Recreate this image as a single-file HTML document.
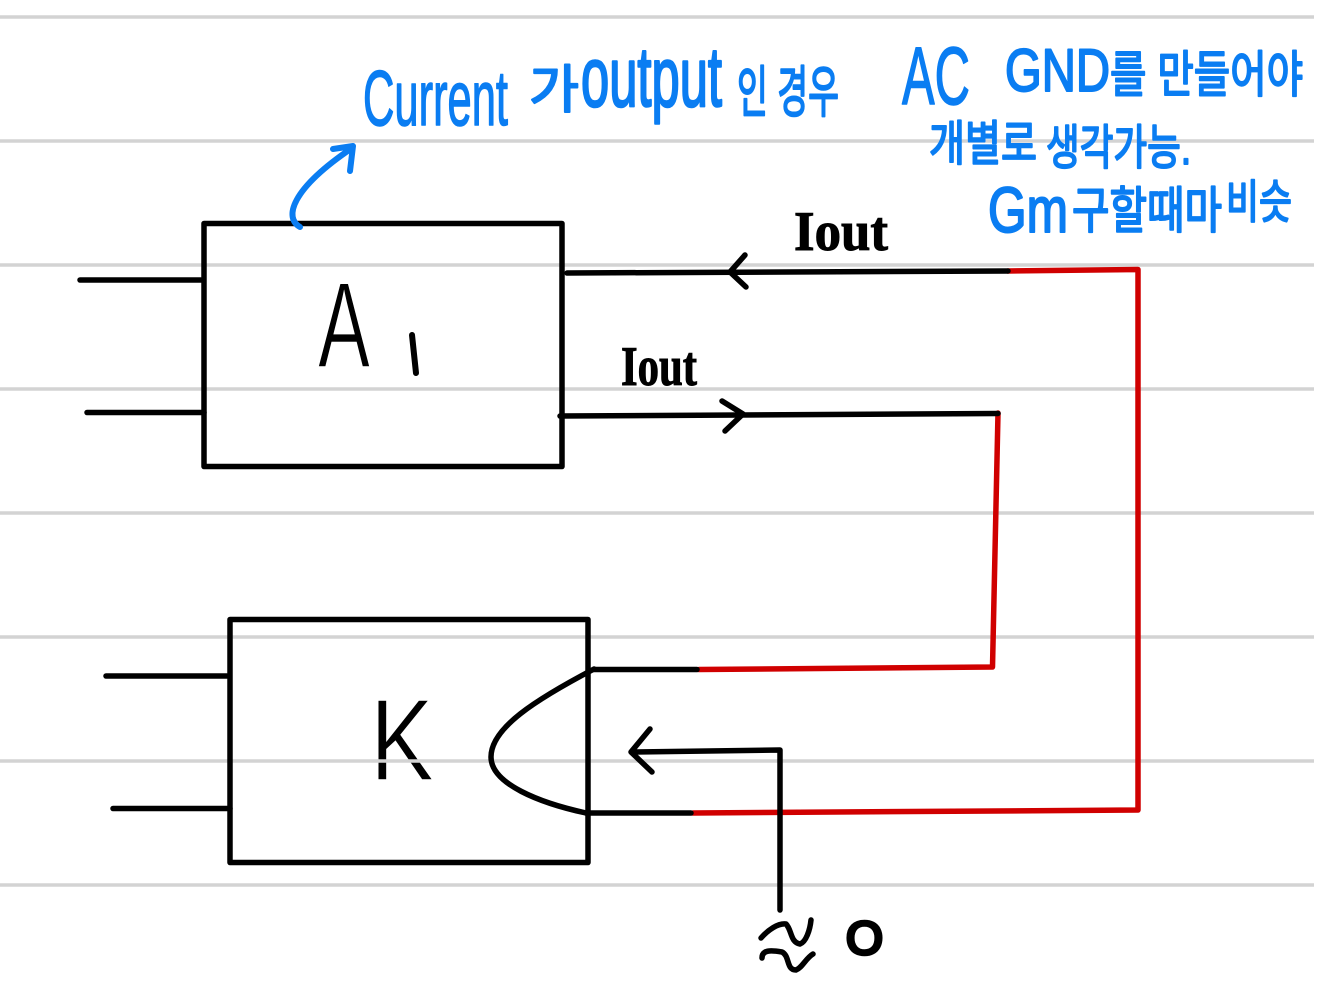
<!DOCTYPE html>
<html>
<head>
<meta charset="utf-8">
<style>
html,body{margin:0;padding:0;background:#fff;}
svg{display:block;}
.kr{font-family:"Liberation Sans","Noto Sans CJK KR",sans-serif;fill:#0a7df2;stroke:#0a7df2;stroke-linejoin:round;}
.lat{font-family:"Liberation Sans",sans-serif;fill:#0a7df2;stroke:#0a7df2;stroke-linejoin:round;}
</style>
</head>
<body>
<svg width="1319" height="1000" viewBox="0 0 1319 1000" xmlns="http://www.w3.org/2000/svg">
<rect width="1319" height="1000" fill="#fff"/>

<!-- big letters, beneath the ruled lines -->
<g font-family="Liberation Sans, sans-serif" fill="#000" stroke="#fff" stroke-width="1.500">
<text x="318" y="367" font-size="122" textLength="52" lengthAdjust="spacingAndGlyphs">A</text>
<text x="370" y="780" font-size="116" textLength="64" lengthAdjust="spacingAndGlyphs">K</text>
</g>
<path d="M412 335 L416 373" stroke="#000" stroke-width="6" stroke-linecap="round" fill="none"/>

<!-- ruled lines -->
<g stroke="#d3d3d3" stroke-width="3.5">
<line x1="0" y1="17" x2="1314" y2="17"/>
<line x1="0" y1="141" x2="1314" y2="141"/>
<line x1="0" y1="265" x2="1314" y2="265"/>
<line x1="0" y1="389" x2="1314" y2="389"/>
<line x1="0" y1="513" x2="1314" y2="513"/>
<line x1="0" y1="637" x2="1314" y2="637"/>
<line x1="0" y1="761" x2="1314" y2="761"/>
<line x1="0" y1="885" x2="1314" y2="885"/>
</g>

<!-- red wires -->
<g fill="none" stroke="#d00000" stroke-width="5.500" stroke-linecap="round" stroke-linejoin="round">
<path d="M1008 271 L1138 269.500 L1138 810 L693 813"/>
<path d="M998 413 L992.500 667 L699 669.500"/>
</g>

<!-- black wires and boxes -->
<g fill="none" stroke="#000" stroke-width="5.500" stroke-linecap="round" stroke-linejoin="round">
<rect x="204" y="223.500" width="358" height="243"/>
<rect x="230" y="619.500" width="358" height="243"/>
<path d="M80 280 L201 280"/>
<path d="M87 412.500 L204 412.500"/>
<path d="M106 676 L227 676"/>
<path d="M113 808.500 L230 808.500"/>
<path d="M567 273 L1008 271"/>
<path d="M560 416 L998 413.500"/>
<path d="M697 669.500 L594 669.500"/>
<path d="M691 813 L586 813"/>
<path d="M594 669 C535 700 491 728 491 757 C491 784 540 803 586 813"/>
<path d="M780 910 L780 750 L632 752"/>
<path d="M650 729 L631 752 L652 772"/>
<path d="M745 255 L730 272 L746 287"/>
<path d="M722 401 L743 414 L725 431"/>
</g>

<!-- AC source symbol -->
<g fill="none" stroke="#000" stroke-width="5.500" stroke-linecap="round" stroke-linejoin="round">
<path d="M761 938 C768 930 778 923 786 924 C792 930 790 942 800 944 C806 942 810 930 811 920"/>
<path d="M762 958 C762 950 770 950 782 952 C790 956 786 970 796 970 C802 968 806 958 813 954"/>
</g>
<text x="846" y="954" font-family="Liberation Sans, sans-serif" font-size="46" fill="#000" stroke="#000" stroke-width="3.500" textLength="37" lengthAdjust="spacingAndGlyphs">O</text>

<!-- Iout labels -->
<g font-family="Liberation Serif, serif" font-weight="bold" fill="#000" stroke="#000" stroke-width="1">
<text x="794" y="250" font-size="56" textLength="94" lengthAdjust="spacingAndGlyphs">Iout</text>
<text x="621" y="385" font-size="56" textLength="76" lengthAdjust="spacingAndGlyphs">Iout</text>
</g>

<!-- blue arrow -->
<g fill="none" stroke="#0a7df2" stroke-width="6" stroke-linecap="round" stroke-linejoin="round">
<path d="M300 227 C284 218 290 190 352 148"/>
<path d="M333 149 L353 146 L350 171"/>
</g>

<!-- blue handwritten notes -->
<text class="lat" x="363" y="125" font-size="78" stroke-width="1.500" textLength="145" lengthAdjust="spacingAndGlyphs">Current</text>
<text class="kr" x="529" y="108" font-size="52" stroke-width="2" textLength="50" lengthAdjust="spacingAndGlyphs">가</text>
<text class="lat" x="581" y="106" font-size="84" stroke-width="2.500" textLength="141" lengthAdjust="spacingAndGlyphs">output</text>
<text class="kr" x="737" y="112" font-size="56" stroke-width="2" textLength="102" lengthAdjust="spacingAndGlyphs">인 경우</text>

<text class="lat" x="902" y="104" font-size="82" stroke-width="1.500" textLength="68" lengthAdjust="spacingAndGlyphs">AC</text>
<text class="lat" x="1005" y="91" font-size="60" stroke-width="2" textLength="105" lengthAdjust="spacingAndGlyphs">GND</text>
<text class="kr" x="1110" y="92" font-size="50" stroke-width="2" textLength="193" lengthAdjust="spacingAndGlyphs">를 만들어야</text>

<text class="kr" x="929" y="160" font-size="48" stroke-width="2" textLength="108" lengthAdjust="spacingAndGlyphs">개별로</text>
<text class="kr" x="1046" y="164" font-size="48" stroke-width="2" textLength="145" lengthAdjust="spacingAndGlyphs">생각가능.</text>

<text class="lat" x="988" y="232" font-size="64" stroke-width="2" textLength="80" lengthAdjust="spacingAndGlyphs">Gm</text>
<text class="kr" x="1072" y="228" font-size="50" stroke-width="2" textLength="150" lengthAdjust="spacingAndGlyphs">구할때마</text>
<text class="kr" x="1226" y="218" font-size="46" stroke-width="2" textLength="66" lengthAdjust="spacingAndGlyphs">비슷</text>
</svg>
</body>
</html>
